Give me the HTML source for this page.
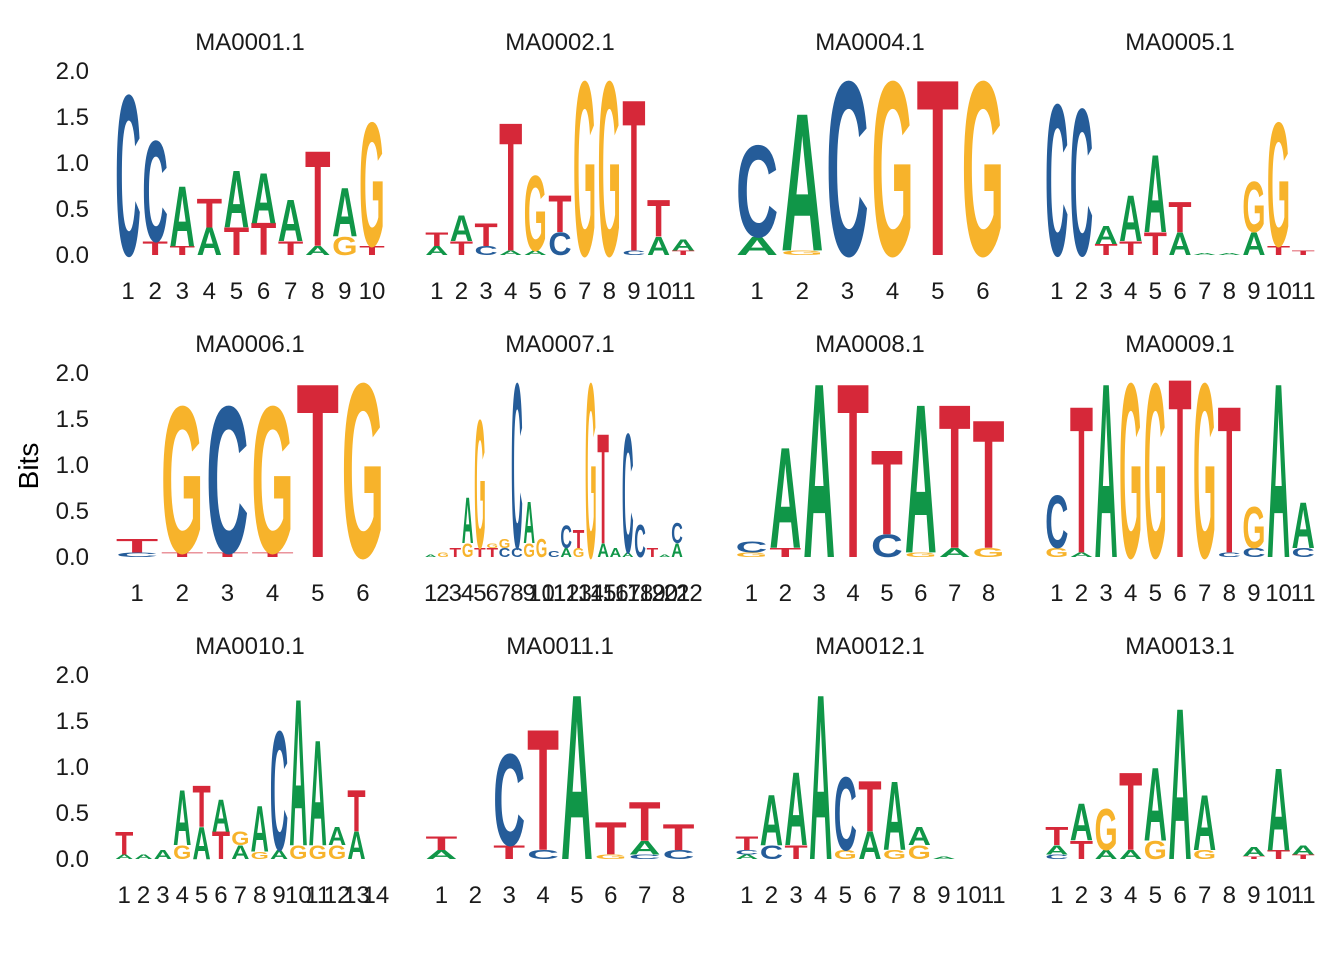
<!DOCTYPE html>
<html><head><meta charset="utf-8"><style>
body{margin:0;background:#fff;}
svg{display:block;}
</style></head><body>
<svg id="s" width="1344" height="960" xmlns="http://www.w3.org/2000/svg" font-family="Liberation Sans, sans-serif"></svg>
<script>
const COL={A:'#109648',C:'#255C99',G:'#F7B32B',T:'#D62839'};
const P=[
{t:'MA0001.1',n:10,d:[[['C',1.75]],[['T',0.15],['C',1.1]],[['T',0.1],['A',0.66]],[['A',0.3],['T',0.32]],[['T',0.3],['A',0.62]],[['T',0.35],['A',0.55]],[['T',0.15],['A',0.45]],[['A',0.1],['T',1.04]],[['G',0.2],['A',0.53]],[['T',0.1],['G',1.35]]]},
{t:'MA0002.1',n:11,d:[[['A',0.1],['T',0.15]],[['T',0.15],['A',0.28]],[['C',0.1],['T',0.25]],[['A',0.05],['T',1.4]],[['A',0.05],['G',0.82]],[['C',0.25],['T',0.4]],[['G',1.9]],[['G',1.9]],[['C',0.05],['T',1.65]],[['A',0.2],['T',0.4]],[['T',0.05],['A',0.12]]]},
{t:'MA0004.1',n:6,d:[[['A',0.2],['C',1.0]],[['G',0.05],['A',1.5]],[['C',1.9]],[['G',1.9]],[['T',1.92]],[['G',1.9]]]},
{t:'MA0005.1',n:11,d:[[['C',1.65]],[['C',1.6]],[['T',0.12],['A',0.2]],[['T',0.15],['A',0.5]],[['T',0.25],['A',0.85]],[['A',0.25],['T',0.33]],[['A',0.02]],[['A',0.02]],[['A',0.25],['G',0.55]],[['T',0.1],['G',1.35]],[['T',0.05]]]},
{t:'MA0006.1',n:6,d:[[['C',0.05],['T',0.15]],[['T',0.05],['G',1.6]],[['T',0.05],['C',1.6]],[['T',0.05],['G',1.6]],[['T',1.9]],[['G',1.9]]]},
{t:'MA0007.1',n:22,d:[[['A',0.03]],[['G',0.05]],[['T',0.1]],[['G',0.15],['A',0.5]],[['T',0.1],['G',1.4]],[['T',0.1],['G',0.05]],[['C',0.1],['G',0.1]],[['C',0.1],['C',1.8]],[['G',0.15],['A',0.45]],[['G',0.2]],[['C',0.06]],[['A',0.1],['C',0.25]],[['G',0.1],['T',0.2]],[['G',1.9]],[['A',0.15],['T',1.2]],[['A',0.1]],[['A',0.05],['C',1.3]],[['C',0.35]],[['T',0.1]],[['A',0.03]],[['A',0.15],['C',0.22]],[]]},
{t:'MA0008.1',n:8,d:[[['G',0.05],['C',0.12]],[['T',0.1],['A',1.1]],[['A',1.9]],[['T',1.9]],[['C',0.25],['T',0.92]],[['G',0.05],['A',1.62]],[['A',0.1],['T',1.57]],[['G',0.1],['T',1.4]]]},
{t:'MA0009.1',n:11,d:[[['G',0.1],['C',0.57]],[['A',0.05],['T',1.6]],[['A',1.9]],[['G',1.9]],[['G',1.9]],[['T',1.95]],[['G',1.9]],[['C',0.05],['T',1.6]],[['C',0.1],['G',0.45]],[['A',1.9]],[['C',0.1],['A',0.5]]]},
{t:'MA0010.1',n:14,d:[[['A',0.05],['T',0.25]],[['A',0.05]],[['A',0.1]],[['G',0.15],['A',0.6]],[['A',0.35],['T',0.45]],[['T',0.3],['A',0.35]],[['A',0.15],['G',0.15]],[['G',0.08],['A',0.5]],[['A',0.1],['C',1.3]],[['G',0.15],['A',1.6]],[['G',0.15],['A',1.15]],[['G',0.15],['A',0.2]],[['A',0.3],['T',0.45]],[]]},
{t:'MA0011.1',n:8,d:[[['A',0.1],['T',0.15]],[],[['T',0.15],['C',1.0]],[['C',0.1],['T',1.32]],[['A',1.8]],[['G',0.05],['T',0.35]],[['C',0.05],['A',0.15],['T',0.42]],[['C',0.1],['T',0.28]]]},
{t:'MA0012.1',n:11,d:[[['A',0.05],['C',0.05],['T',0.15]],[['C',0.15],['A',0.55]],[['T',0.15],['A',0.8]],[['A',1.8]],[['G',0.1],['C',0.8]],[['A',0.3],['T',0.55]],[['G',0.1],['A',0.75]],[['G',0.15],['A',0.2]],[['A',0.03]],[],[]]},
{t:'MA0013.1',n:11,d:[[['C',0.05],['A',0.1],['T',0.2]],[['T',0.2],['A',0.4]],[['A',0.1],['G',0.45]],[['A',0.1],['T',0.85]],[['G',0.2],['A',0.8]],[['A',1.65]],[['G',0.1],['A',0.6]],[],[['T',0.03],['A',0.1]],[['T',0.1],['A',0.9]],[['T',0.05],['A',0.1]]]}
];
let h='';
const S=92,W=271;
P.forEach((p,k)=>{
 const c=k%4,r=Math.floor(k/4);
 const x0=114.5+c*310, base=255+r*302;
 h+=`<text x="${x0+W/2}" y="${base-205}" font-size="24" text-anchor="middle" fill="#1a1a1a">${p.t}</text>`;
 const sp=W/p.n;
 for(let i=0;i<p.n;i++){
  const cx=x0+sp*(i+0.5);
  h+=`<text x="${cx}" y="${base+44}" font-size="24" text-anchor="middle" fill="#1a1a1a">${i+1}</text>`;
  let y=base;
  (p.d[i]||[]).forEach(([L,b])=>{
   const hh=b*S; if(hh<0.5)return;
   const w=sp*0.94;
   h+=`<text x="0" y="0" font-size="100" font-weight="bold" fill="${COL[L]}" textLength="60" lengthAdjust="spacingAndGlyphs" transform="translate(${cx-w/2},${y}) scale(${w/60},${hh/70})">${L}</text>`;
   y-=hh;
  });
 }
 if(c==0){
  ['0.0','0.5','1.0','1.5','2.0'].forEach((v,j)=>{
   h+=`<text x="89" y="${base-j*46+8}" font-size="24" text-anchor="end" fill="#1a1a1a">${v}</text>`;
  });
 }
});
h+=`<text transform="translate(38,466) rotate(-90)" font-size="28" text-anchor="middle" fill="#000">Bits</text>`;
document.getElementById('s').innerHTML=h;
</script>
</body></html>
